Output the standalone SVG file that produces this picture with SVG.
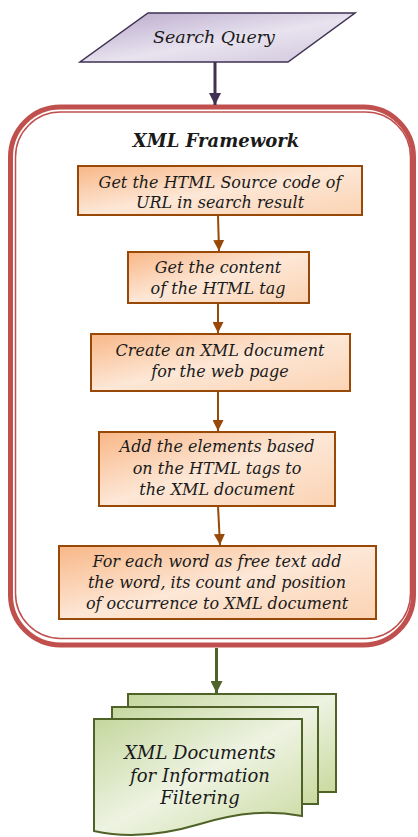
<svg xmlns="http://www.w3.org/2000/svg" width="418" height="837" viewBox="0 0 418 837">
<style>
  .t { font-family: "DejaVu Serif", "Liberation Serif", serif; font-style: italic; fill: #1a1a1a; text-anchor: middle; }
  .b { font-size: 16px; }
  .box { fill: url(#gOrange); stroke: #984807; stroke-width: 2; }
  .doc { fill: url(#gGreen); stroke: #4f6228; stroke-width: 2; }
  .ca { stroke: #984807; stroke-width: 2; fill: none; marker-end: url(#mOrange); }
</style>
<defs>
  <linearGradient id="gPurple" x1="0" y1="0" x2="1" y2="1">
    <stop offset="0" stop-color="#b6a6ca"/>
    <stop offset="0.55" stop-color="#e8e3ef"/>
    <stop offset="1" stop-color="#cfc5dc"/>
  </linearGradient>
  <linearGradient id="gOrange" x1="0" y1="0" x2="1" y2="1">
    <stop offset="0" stop-color="#f8b787"/>
    <stop offset="0.5" stop-color="#fde7d6"/>
    <stop offset="1" stop-color="#fbd3b3"/>
  </linearGradient>
  <linearGradient id="gGreen" x1="0" y1="0" x2="1" y2="1">
    <stop offset="0" stop-color="#c4d79e"/>
    <stop offset="0.5" stop-color="#eef3e2"/>
    <stop offset="1" stop-color="#c9da9f"/>
  </linearGradient>
  <marker id="mOrange" viewBox="0 0 10 10" refX="10" refY="5" markerWidth="5.5" markerHeight="5.5" orient="auto" markerUnits="strokeWidth">
    <path d="M0,0 L10,5 L0,10 Z" fill="#984807"/>
  </marker>
  <marker id="mPurple" viewBox="0 0 10 10" refX="10" refY="5" markerWidth="4" markerHeight="4" orient="auto" markerUnits="strokeWidth">
    <path d="M0,0 L10,5 L0,10 Z" fill="#3f3151"/>
  </marker>
  <marker id="mGreen" viewBox="0 0 10 10" refX="10" refY="5" markerWidth="4" markerHeight="4" orient="auto" markerUnits="strokeWidth">
    <path d="M0,0 L10,5 L0,10 Z" fill="#4f6228"/>
  </marker>
</defs>

<g id="frame">
  <rect x="10.5" y="107" width="403" height="538" rx="50" ry="50" fill="#ffffff" stroke="#c0504d" stroke-width="5"/>
  <rect x="15.5" y="112" width="395" height="526.5" rx="45" ry="45" fill="none" stroke="#c0504d" stroke-width="1.5"/>
  <text class="t" x="216" y="147" font-size="18" font-weight="bold" fill="#000">XML Framework</text>
</g>

<g id="connectors">
  <line x1="215" y1="62" x2="215" y2="105" stroke="#3f3151" stroke-width="3" marker-end="url(#mPurple)"/>
  <line class="ca" x1="218" y1="215" x2="219" y2="251"/>
  <line class="ca" x1="218" y1="303" x2="218" y2="333"/>
  <line class="ca" x1="218" y1="391" x2="218" y2="431"/>
  <line class="ca" x1="218" y1="506" x2="220" y2="545"/>
  <line x1="216.5" y1="648" x2="216.5" y2="693" stroke="#4f6228" stroke-width="3" marker-end="url(#mGreen)"/>
</g>

<g id="search-query">
  <polygon points="148,13 355,13 288,62 80,62" fill="url(#gPurple)" stroke="#3f3151" stroke-width="1.5"/>
  <text class="t" x="214" y="43" font-size="17.5">Search Query</text>
</g>

<g id="step1">
  <rect class="box" x="78" y="166" width="284" height="49"/>
  <text class="t b" x="220" y="188">Get the HTML Source code of</text>
  <text class="t b" x="220" y="208">URL in search result</text>
</g>

<g id="step2">
  <rect class="box" x="128" y="252" width="181" height="51"/>
  <text class="t b" x="218" y="273">Get the content</text>
  <text class="t b" x="218" y="294">of the HTML tag</text>
</g>

<g id="step3">
  <rect class="box" x="91" y="334" width="259" height="57"/>
  <text class="t b" x="220" y="356">Create an XML document</text>
  <text class="t b" x="220" y="377">for the web page</text>
</g>

<g id="step4">
  <rect class="box" x="99" y="432" width="236" height="74"/>
  <text class="t b" x="217" y="452">Add the elements based</text>
  <text class="t b" x="217" y="474">on the HTML tags to</text>
  <text class="t b" x="217" y="495">the XML document</text>
</g>

<g id="step5">
  <rect class="box" x="59" y="546" width="317" height="73"/>
  <text class="t b" x="217" y="567">For each word as free text add</text>
  <text class="t b" x="217" y="588">the word, its count and position</text>
  <text class="t b" x="217" y="609">of occurrence to XML document</text>
</g>

<g id="xml-documents">
  <rect class="doc" x="128" y="694" width="208" height="98"/>
  <rect class="doc" x="112" y="707" width="206" height="97"/>
  <path class="doc" d="M94,719 H302 V816 C270,810 240,812 200,824 C160,836 125,838 94,831 Z"/>
  <text class="t" x="200" y="759" font-size="18">XML Documents</text>
  <text class="t" x="200" y="782" font-size="18">for Information</text>
  <text class="t" x="200" y="804" font-size="18">Filtering</text>
</g>
</svg>
